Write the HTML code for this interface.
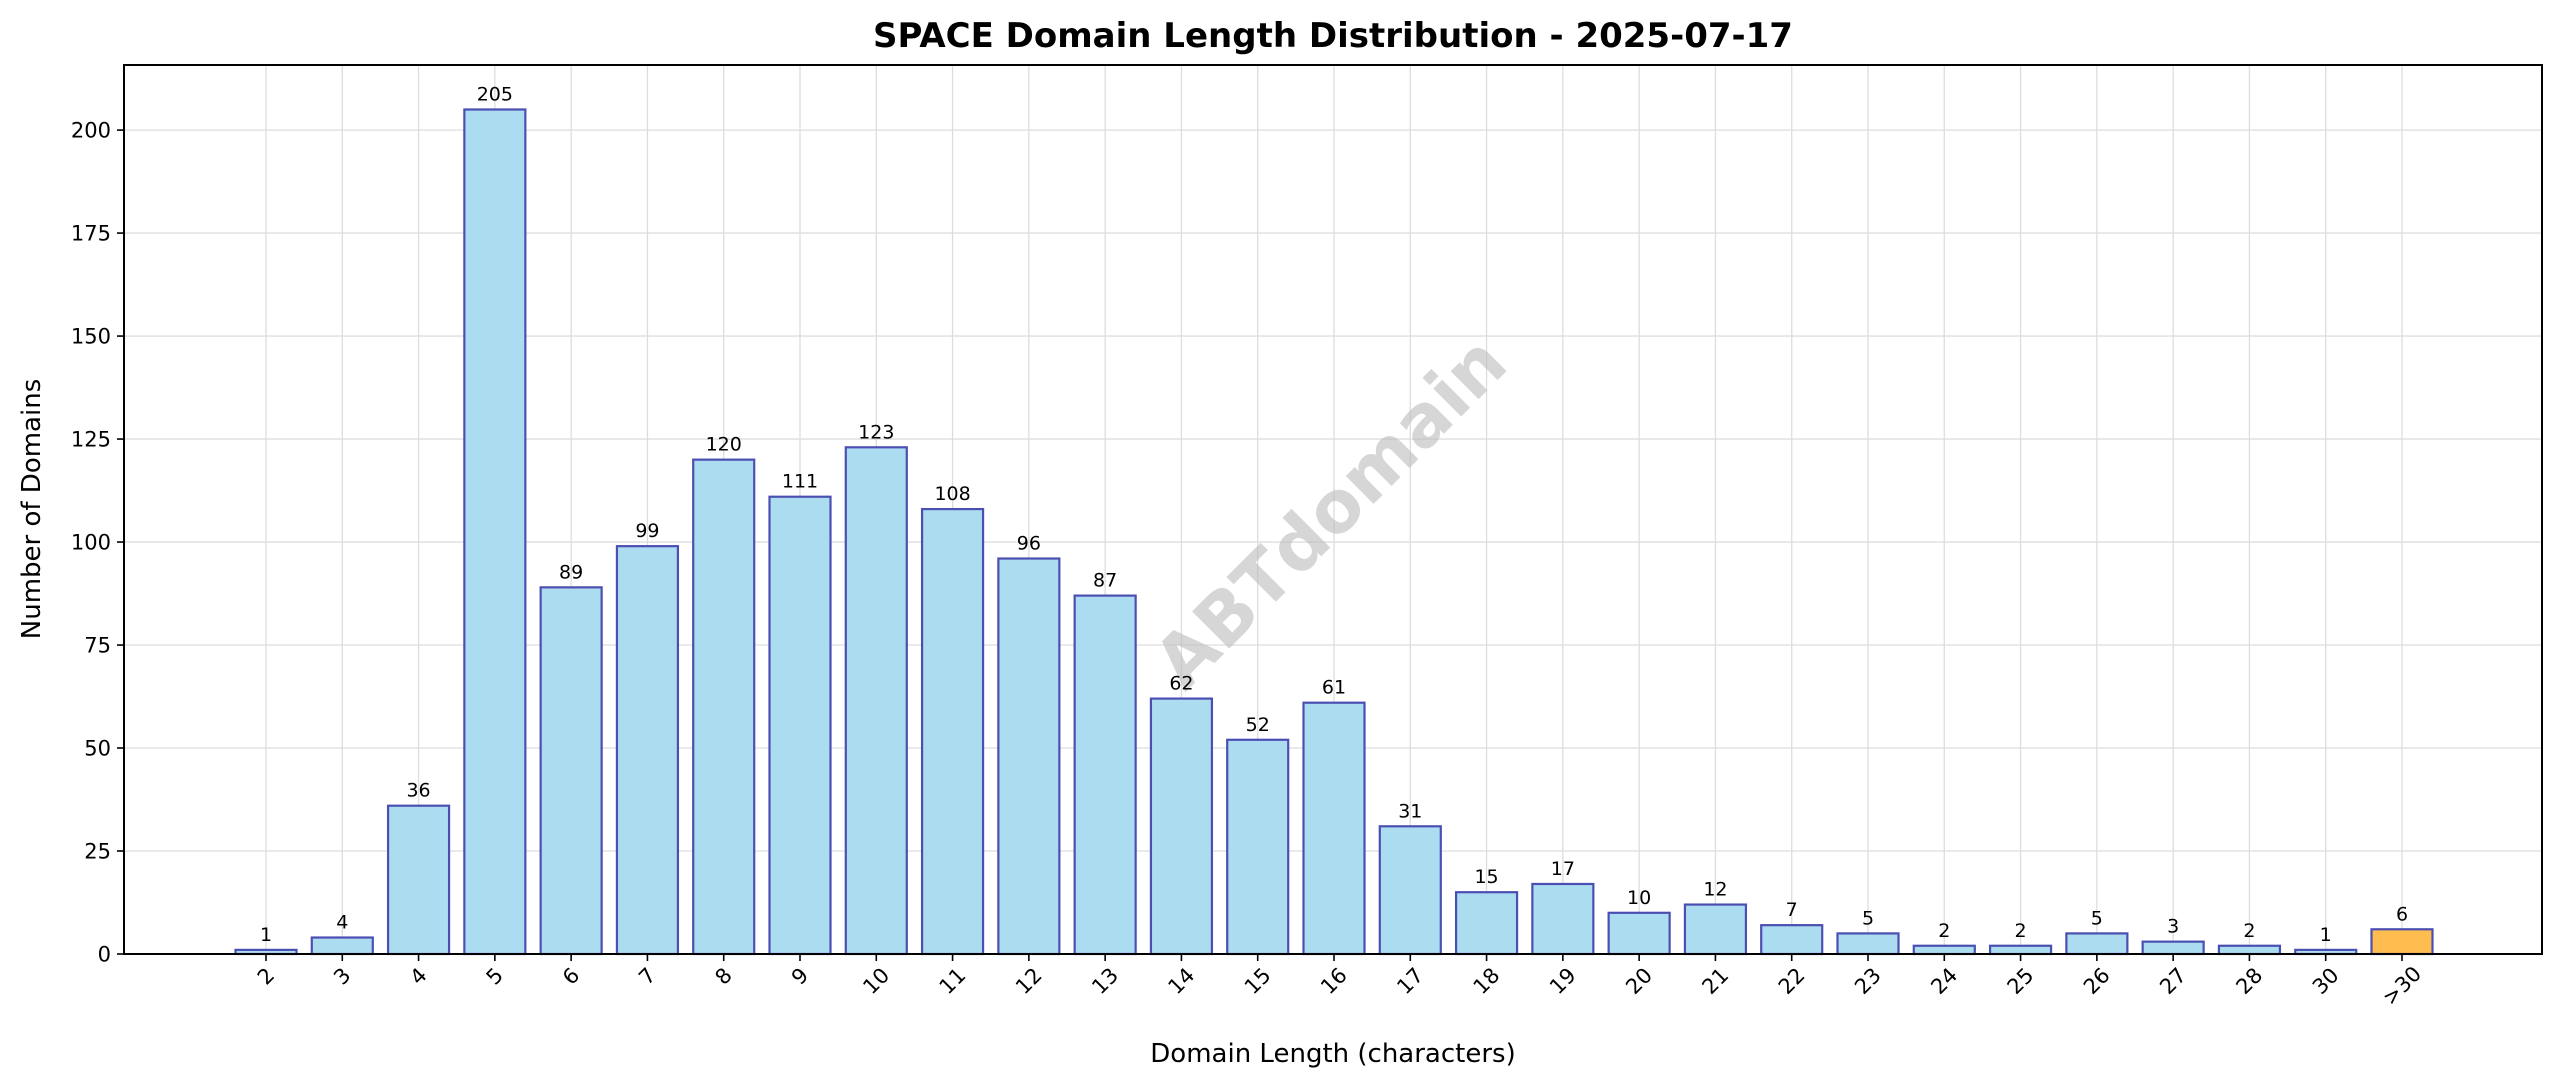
<!DOCTYPE html>
<html><head><meta charset="utf-8"><style>body{margin:0;background:#fff}svg{display:block;font-family:"DejaVu Sans","Liberation Sans",sans-serif}</style></head>
<body>
<svg id="chart" width="2560" height="1087" viewBox="0 0 2560 1087" xmlns="http://www.w3.org/2000/svg">
<rect width="2560" height="1087" fill="#fff"/>
<text x="1333" y="47" font-size="34" font-weight="bold" text-anchor="middle">SPACE Domain Length Distribution - 2025-07-17</text>
<g id="grid"></g>
<text x="1334" y="516" font-size="72" font-weight="bold" fill="#bbb" fill-opacity="0.6" text-anchor="middle" dominant-baseline="middle" transform="rotate(-45 1334 516)">ABTdomain</text>
<g id="bars"></g>
<g id="axes"></g>
<text x="1333" y="1062" font-size="26" text-anchor="middle">Domain Length (characters)</text>
<text x="0" y="0" font-size="26" text-anchor="middle" transform="translate(40 509) rotate(-90)">Number of Domains</text>
</svg>
<script>
const categories=["2","3","4","5","6","7","8","9","10","11","12","13","14","15","16","17","18","19","20","21","22","23","24","25","26","27","28","30",">30"];
const counts=[1,4,36,205,89,99,120,111,123,108,96,87,62,52,61,31,15,17,10,12,7,5,2,2,5,3,2,1,6];
const yTicks=[0,25,50,75,100,125,150,175,200];
const NS="http://www.w3.org/2000/svg";
const L=124,R=2542,T=65,B=954,yMax=215.8;
const x0=266,step=(2402-266)/28,bw=61;
function xs(i){return x0+i*step;}
function ys(v){return B-v*(B-T)/yMax;}
function mk(tag,attrs,parent,txt){const e=document.createElementNS(NS,tag);for(const k in attrs)e.setAttribute(k,attrs[k]);if(txt!==undefined)e.textContent=txt;parent.appendChild(e);return e;}
const grid=document.getElementById('grid'),bars=document.getElementById('bars'),axes=document.getElementById('axes');
yTicks.forEach(t=>{const y=ys(t);
 const g=mk('line',{x1:L,x2:R,y1:y,y2:y,stroke:'#ddd','stroke-width':1.3},grid);
 
 
 const tk=mk('line',{x1:L-7,x2:L,y1:y,y2:y,stroke:'#000','stroke-width':1.6},axes);
 
 
 const lb=mk('text',{x:L-13,y:y+7.5,'font-size':21,'text-anchor':'end'},axes,String(t));
 
 
});
categories.forEach((c,i)=>{const x=xs(i);
 const g=mk('line',{x1:x,x2:x,y1:T,y2:B,stroke:'#ddd','stroke-width':1.3},grid);
 
 
 const v=counts[i];const y=ys(v);const last=c===">30";
 const r=mk('rect',{x:x-bw/2,y:y,width:bw,height:B-y,fill:last?'#ffbd4f':'#abdcf0',stroke:'#4c4fb2','stroke-width':2.2},bars);
 
 
 const vl=mk('text',{x:x,y:y-9,'font-size':19,'text-anchor':'middle'},bars,String(v));
 
 
 const tk=mk('line',{x1:x,x2:x,y1:B,y2:B+7,stroke:'#000','stroke-width':1.6},axes);
 
 
 const w=c.length*13.3,h=16;const cy=966+(w+h)*0.707/2;
 const xl=mk('text',{x:x,y:cy,'font-size':21,'text-anchor':'middle','dominant-baseline':'central',transform:`rotate(-45 ${x} ${cy})`},axes,c);
 
 
});
const f=mk('rect',{x:L,y:T,width:R-L,height:B-T,fill:'none',stroke:'#000','stroke-width':2},axes);


</script>
</body></html>
